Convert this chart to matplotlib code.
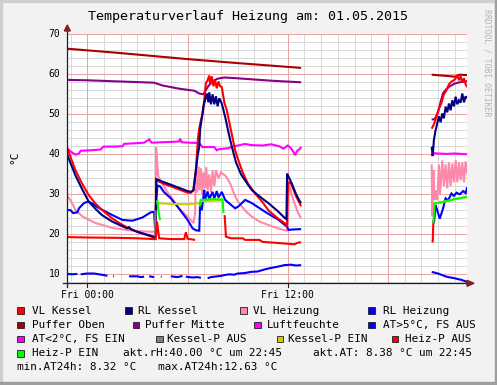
import numpy as np
import matplotlib
matplotlib.use('Agg')
import matplotlib.pyplot as plt
from matplotlib.patches import Rectangle, Polygon
from matplotlib.lines import Line2D

nan = np.nan

# ---------------- data (hours relative to Fri 00:00) ----------------
vl_kessel_t = [-1.2, -0.72, -0.32, 0.08, 0.48, 0.88, 1.48, 2.0, 2.48, 3.0, 3.5, 3.98, 4.08,
               4.13, 4.6, 5.0, 5.5, 6.0, 6.2, 6.35, 6.5, 6.62, 6.7, 6.8, 6.9, 7.0, 7.1, 7.2, 7.3,
               7.35, 7.45, 7.55, 7.65, 7.75, 7.85, 7.95, 8.05, 8.2, 8.35, 8.6, 8.85, 9.0, 9.3, 9.6,
               10.04, 10.5, 10.84, 11.4, 11.84, 11.95, 12.02, 12.2, 12.5, 12.8, 12.85,
               20.62, 20.75, 20.9, 21.05, 21.2, 21.35, 21.5, 21.65, 21.8, 21.95, 22.05, 22.15,
               22.25, 22.35, 22.45, 22.55, 22.65, 22.75]
vl_kessel_v = [41.5, 36.1, 32.7, 29.8, 27.7, 26.1, 24.0, 22.6, 21.5, 20.6, 19.9, 19.2, 19.3,
               33.5, 32.6, 32.0, 31.2, 30.4, 30.4, 31.0, 36.0, 44.0, 46.5, 48.5, 50.0, 53.6, 57.8, 58.5, 59.7,
               57.5, 59.5, 57.0, 58.5, 56.5, 58.2, 57.0, 56.8, 53.0, 51.0, 46.0, 41.0, 39.0, 35.5, 32.8,
               30.2, 28.0, 26.0, 24.0, 22.7, 22.0, 33.0, 32.7, 29.5, 27.0, nan,
               46.4, 47.5, 49.4, 51.5, 52.8, 55.0, 56.0, 57.5, 58.2, 58.5, 59.0, 59.8,
               58.5, 59.5, 58.0, 59.0, 57.5, 56.8]

rl_kessel_t = [-1.2, -0.72, -0.3, 0.08, 0.5, 0.88, 1.48, 2.0, 2.38, 2.5, 2.6, 3.0, 3.5, 3.98, 4.08,
               4.13, 4.6, 5.0, 5.5, 6.0, 6.2, 6.35, 6.5, 6.6, 6.7, 6.75, 6.85, 6.95, 7.05, 7.15, 7.25,
               7.3, 7.4, 7.5, 7.6, 7.7, 7.8, 7.9, 8.05, 8.25, 8.45, 8.65, 8.9, 9.2, 9.6, 9.84, 10.3,
               10.84, 11.4, 11.84, 11.92, 11.96, 12.24, 12.5, 12.74, 12.8, 12.85,
               20.62, 20.68, 20.75, 20.85, 20.95, 21.05, 21.15, 21.25, 21.35, 21.45, 21.55,
               21.65, 21.75, 21.85, 21.95, 22.05, 22.15, 22.25, 22.35, 22.45, 22.55, 22.65, 22.75]
rl_kessel_v = [39.8, 34.8, 31.2, 28.2, 26.3, 24.8, 23.2, 22.2, 21.5, 21.8, 21.3, 20.6, 20.0, 19.4, 19.5,
               33.8, 33.0, 32.4, 31.6, 30.8, 30.6, 31.0, 36.0, 39.5, 41.9, 46.0, 49.0, 51.9, 53.6, 55.2, 53.0,
               55.5, 52.5, 55.0, 52.5, 54.5, 52.0, 54.0, 52.7, 49.4, 45.5, 41.9, 38.0, 35.0, 32.5, 31.1, 29.5,
               27.8, 25.8, 24.0, 23.8, 35.2, 32.7, 30.0, 28.1, 27.8, nan,
               41.9, 39.6, 43.6, 46.0, 47.7, 49.5, 48.0, 50.2, 49.0, 51.9, 50.5,
               52.7, 51.0, 53.5, 52.0, 54.4, 52.5, 53.5, 52.9, 55.2, 53.0, 54.5, 54.0]

vl_heizung_t = [-1.2, -1.0, -0.7, -0.3, 0.1, 0.5, 1.0, 1.5, 2.0, 2.5, 3.0, 3.5, 4.0, 4.08, 4.12,
                4.18, 4.25, 4.5, 4.8, 5.0, 5.5, 6.0, 6.35, 6.45, 6.5, 6.57, 6.65, 6.72, 6.8, 6.88,
                6.95, 7.05, 7.12, 7.2, 7.3, 7.4, 7.5, 7.6, 7.7, 7.85, 8.0, 8.3, 8.55, 8.8, 9.0,
                9.25, 9.55, 9.85, 10.3, 10.85, 11.4, 11.84, 12.0, 12.06, 12.3, 12.6, 12.8, 12.85,
                20.62, 20.65, 20.72, 20.78, 20.85, 20.95, 21.05, 21.12, 21.25, 21.35, 21.45,
                21.55, 21.65, 21.75, 21.85, 21.95, 22.05, 22.15, 22.25, 22.35, 22.45, 22.55,
                22.65, 22.75]
vl_heizung_v = [29.5, 28.5, 26.0, 24.5, 23.6, 22.8, 22.2, 21.6, 21.3, 21.0, 20.8, 20.7, 20.6, 21.0, 41.8,
                38.0, 34.5, 32.5, 30.5, 29.4, 26.5, 24.4, 22.8, 25.2, 36.5, 30.5, 37.0, 31.0, 36.5, 30.0,
                35.5, 31.5, 36.8, 31.0, 35.0, 30.5, 36.0, 32.0, 36.0, 34.0, 35.5, 34.5, 32.7, 30.0, 28.3,
                26.9, 25.5, 24.4, 23.2, 22.3, 21.5, 21.0, 21.0, 32.5, 29.0, 25.5, 24.0, nan,
                37.5, 24.5, 36.0, 28.6, 31.0, 28.5, 37.5, 30.0, 38.5, 32.0, 37.5,
                31.5, 38.0, 32.0, 37.7, 33.0, 38.5, 33.0, 38.0, 33.5, 38.0, 33.0,
                38.2, 35.0]

rl_heizung_t = [-1.2, -1.0, -0.85, -0.6, -0.5, -0.2, 0.05, 0.3, 0.6, 0.9, 1.5, 2.1, 2.7, 3.3, 3.8,
                4.0, 4.05, 4.12, 4.2, 4.35, 4.6, 5.0, 5.4, 6.0, 6.3, 6.5, 6.7, 6.75, 6.85, 7.0, 7.05,
                7.2, 7.3, 7.5, 7.6, 7.75, 7.85, 8.05, 8.25, 8.85, 9.05, 9.45, 9.85, 10.65, 11.45,
                11.95, 12.05, 12.3, 12.8, 12.85,
                20.75, 20.85, 20.95, 21.1, 21.3, 21.45, 21.6, 21.8, 21.95, 22.1, 22.3, 22.5,
                22.65, 22.75]
rl_heizung_v = [26.1, 26.0, 25.3, 25.5, 26.5, 27.8, 28.2, 27.7, 26.8, 26.1, 24.8, 23.6, 23.4, 24.2, 25.5,
                25.6, 21.5, 28.0, 32.2, 32.0, 30.5, 29.0, 26.9, 23.6, 21.5, 21.0, 20.9, 27.3, 26.0, 31.1, 28.6,
                30.7, 28.8, 30.6, 29.0, 30.8, 29.2, 30.6, 28.6, 26.5, 27.0, 28.6, 27.8, 25.6, 23.6,
                21.9, 21.1, 21.2, 21.3, nan,
                22.7, 27.3, 26.0, 23.9, 26.5, 29.0, 28.5, 30.2, 29.6, 30.4, 30.0, 30.8,
                30.3, 31.8]

puffer_oben_t = [-1.2, 2.0, 6.0, 9.0, 12.8, 12.85, 20.62, 21.5, 22.0, 22.3, 22.75]
puffer_oben_v = [66.4, 65.3, 63.8, 62.8, 61.6, nan, 59.9, 59.6, 59.4, 59.9, 59.8]

puffer_mitte_t = [-1.2, 0.0, 2.0, 4.0, 4.5, 5.5, 6.4, 6.7, 6.95, 7.2, 7.5, 7.8, 8.2, 9.0, 10.0, 11.0,
                  12.8, 12.85, 20.62, 20.8, 21.0, 21.15, 21.3, 21.5, 21.7, 22.0, 22.3, 22.75]
puffer_mitte_v = [58.6, 58.5, 58.2, 57.9, 57.2, 56.4, 55.9, 55.2, 55.0, 56.8, 58.3, 58.9, 59.2, 59.0, 58.7, 58.4,
                  58.0, nan, 48.7, 48.8, 50.5, 53.0, 55.3, 56.3, 57.0, 57.7, 58.0, 58.3]

luftfeuchte_t = [-1.2, -1.0, -0.7, -0.5, -0.4, 0.2, 0.8, 0.95, 2.1, 2.2, 3.4, 3.7, 3.85, 5.0, 5.5,
                 5.55, 5.65, 6.7, 6.9, 7.6, 7.75, 7.9, 8.4, 8.7, 9.45, 9.8, 10.5, 11.0, 11.5, 11.74,
                 12.0, 12.2, 12.35, 12.44, 12.55, 12.74, 12.8, 12.85,
                 20.62, 20.7, 21.0, 21.5, 22.0, 22.75]
luftfeuchte_v = [41.5, 40.7, 39.9, 40.2, 40.9, 41.0, 41.2, 41.9, 42.0, 42.6, 42.9, 43.7, 42.9, 43.1, 43.2,
                 43.9, 43.0, 42.8, 41.8, 41.8, 41.0, 41.3, 41.5, 41.9, 42.6, 42.3, 42.2, 42.5, 42.0, 41.4,
                 42.2, 41.5, 40.5, 39.8, 40.8, 41.4, 41.9, nan,
                 39.5, 40.3, 40.2, 40.1, 40.2, 40.0]

at_t = [-1.2, -0.9, -0.6, -0.55, -0.4, 0.0, 0.4, 0.7, 1.0, 1.2, 1.25, 1.55, 1.6, 1.62, 2.0, 2.05,
        2.3, 2.35, 2.5, 2.7, 3.0, 3.2, 3.4, 3.45, 3.7, 4.0, 4.05, 4.4, 4.45, 4.5, 5.0, 5.2, 5.4, 5.7,
        5.75, 5.9, 6.3, 6.6, 6.8, 6.85, 7.0, 7.05, 7.2, 7.4, 7.6, 7.8, 8.0, 8.2, 8.5, 8.8, 9.0, 9.4,
        9.8, 10.2, 10.6, 11.0, 11.4, 11.8, 12.2, 12.5, 12.8, 12.85,
        20.62, 21.0, 21.5, 22.0, 22.4, 22.75]
at_v = [10.1, 10.0, 10.1, nan, 10.0, 10.2, 10.2, 10.0, 9.8, 9.6, nan, 9.5, 9.5, nan, 9.4, nan,
        9.4, nan, 9.5, 9.5, 9.5, 9.3, 9.4, nan, 9.5, 9.3, nan, 9.4, 9.4, nan, 9.5, 9.4, 9.3, 9.6,
        nan, 9.4, 9.2, 9.3, 9.1, nan, 9.0, nan, 9.0, 9.3, 9.4, 9.5, 9.6, 9.8, 10.0, 9.9, 10.2, 10.3,
        10.6, 10.7, 11.2, 11.6, 11.9, 12.3, 12.4, 12.2, 12.3, nan,
        10.6, 10.2, 9.4, 9.0, 8.6, 8.1]

kessel_p_aus_t = [4.05, 4.08]
kessel_p_aus_v = [19.5, 26.0]

kessel_p_ein_t = [4.15, 5.0, 6.0, 6.7, 6.8, 8.1, 8.15, 20.68, 21.5, 22.0, 22.75]
kessel_p_ein_v = [27.8, 27.6, 27.5, 27.8, 28.3, 28.5, nan, 27.5, 28.3, 28.8, 29.3]

heiz_p_aus_t = [-1.2, 0.0, 2.0, 3.0, 4.0, 4.1, 4.17, 4.3, 5.0, 5.8, 5.9, 6.0, 6.45, 6.5,
                8.22, 8.3, 8.6, 9.3, 9.45, 10.3, 10.5, 11.5, 12.4, 12.6, 12.8, 12.85,
                20.62, 20.68, 20.72]
heiz_p_aus_v = [19.3, 19.2, 19.1, 19.0, 18.8, 18.8, 23.2, 19.0, 18.8, 18.8, 20.5, 18.9, 18.6, nan,
                24.8, 19.4, 19.0, 19.0, 18.6, 18.6, 18.1, 17.8, 17.5, 17.9, 18.0, nan,
                18.2, 18.2, 23.6]

heiz_p_ein_t = [4.13, 4.2, 4.25, 4.35, 4.4, 6.72, 6.78, 7.5, 8.1, 8.15, 8.2, 20.72, 20.78, 21.5, 22.0, 22.75]
heiz_p_ein_v = [28.3, 28.3, 26.0, 23.5, nan, 26.9, 28.6, 28.8, 28.7, 25.3, nan, 22.7, 27.7, 28.3, 28.8, 29.4]

x_tick_pos = [0, 12]
x_tick_labels = ['Fri 00:00', 'Fri 12:00']
y_ticks = [10, 20, 30, 40, 50, 60, 70]

legend_rows = [
    [('VL Kessel', '#ff0000', 17, 31.7), ('RL Kessel', '#000080', 125, 137.7),
     ('VL Heizung', '#ff88a8', 240, 253.3), ('RL Heizung', '#0000ff', 368.3, 382.7)],
    [('Puffer Oben', '#aa0000', 17, 31.7), ('Puffer Mitte', '#880088', 132.7, 145),
     ('Luftfeuchte', '#ff00ff', 254, 266.7), ('AT>5°C, FS AUS', '#0000ff', 368.3, 382.7)],
    [('AT<2°C, FS EIN', '#ff00ff', 17, 31.7), ('Kessel-P AUS', '#808080', 156, 166.7),
     ('Kessel-P EIN', '#cccc00', 276.7, 288.3), ('Heiz-P AUS', '#ff0000', 391.7, 405.3)],
    [('Heiz-P EIN', '#00ff00', 17, 31.7)],
]
legend_text_extra = [
    ('akt.rH:40.00 °C um 22:45', 122.7, 353.3),
    ('akt.AT: 8.38 °C um 22:45', 312.7, 353.3),
    ('min.AT24h: 8.32 °C', 16.7, 366.7),
    ('max.AT24h:12.63 °C', 158.3, 366.7),
]

# ---------------- figure ----------------
W, H = 497, 385
fig = plt.figure(figsize=(W / 100, H / 100), dpi=100)
fig.patch.set_facecolor('#f2f2f2')

def P(x, y):
    return (x / W, 1 - y / H)

MONO = 'DejaVu Sans Mono'

# frame shading
fig.patches.append(Rectangle((0, 1 - 2 / H), 1, 2 / H, transform=fig.transFigure, color='#cfcfcf', zorder=0))
fig.patches.append(Rectangle((0, 0), 2 / W, 1, transform=fig.transFigure, color='#cfcfcf', zorder=0))
fig.patches.append(Rectangle((0, 0), 1, 3 / H, transform=fig.transFigure, color='#9e9e9e', zorder=0))
fig.patches.append(Rectangle((1 - 2 / W, 0), 2 / W, 1, transform=fig.transFigure, color='#9e9e9e', zorder=0))

x0px, x1px = 67.3, 467.3
ytop, ybot = 34.3, 283.3
ax = fig.add_axes([x0px / W, (H - ybot) / H, (x1px - x0px) / W, (ybot - ytop) / H])
ax.set_facecolor('white')
ax.set_xlim(-1.2, 22.75)
ax.set_ylim(70 - (ybot - ytop) / 4.0, 70)
for s in ax.spines.values():
    s.set_visible(False)
ax.set_xticks([])
ax.set_yticks([])

# grid
for h in np.arange(-1, 23, 1):
    ax.axvline(h, color='#d9d9d9', lw=0.72, zorder=0.5)
for v in np.arange(8, 71, 2):
    ax.axhline(v, color='#d9d9d9', lw=0.72, zorder=0.5)
for h in [0, 6, 12, 18]:
    ax.axvline(h, color='#eaa6a6', lw=0.75, zorder=0.6)
for v in y_ticks:
    ax.axhline(v, color='#eaa6a6', lw=0.75, zorder=0.6)

lw = 1.5
def line(t, v, c, z=2, w=lw):
    ax.plot(t, v, color=c, lw=w, zorder=z, solid_joinstyle='miter', solid_capstyle='butt')

line(puffer_oben_t, puffer_oben_v, '#aa0000', 2)
line(puffer_mitte_t, puffer_mitte_v, '#880088', 2)
line(luftfeuchte_t, luftfeuchte_v, '#ff00ff', 2)
line(vl_heizung_t, vl_heizung_v, '#ff88a8', 2.1)
line(rl_heizung_t, rl_heizung_v, '#0000ff', 2.2)
line(vl_kessel_t, vl_kessel_v, '#ff0000', 2.3)
line(rl_kessel_t, rl_kessel_v, '#000080', 2.4)
line(at_t, at_v, '#0000ff', 2.2)
line(kessel_p_aus_t, kessel_p_aus_v, '#808080', 2.5)
line(kessel_p_ein_t, kessel_p_ein_v, '#cccc00', 2.5)
line(heiz_p_aus_t, heiz_p_aus_v, '#ff0000', 2.5)
line(heiz_p_ein_t, heiz_p_ein_v, '#00ff00', 2.6)

# axes lines + arrows (figure pixel coords)
def fline(xs, ys, c, w=1.0):
    fig.lines.append(Line2D([x / W for x in xs], [1 - y / H for y in ys], color=c, lw=w,
                            transform=fig.transFigure, zorder=5))
fline([67.3, 67.3], [287, 30], '#1f1f1f', 0.9)
fline([63, 469], [283.3, 283.3], '#1f1f1f', 0.9)
fig.patches.append(Polygon([P(64.3, 31), P(70.3, 31), P(67.3, 25)], closed=True,
                           transform=fig.transFigure, color='#802020', zorder=6))
fig.patches.append(Polygon([P(467, 280.3), P(467, 286.3), P(474, 283.3)], closed=True,
                           transform=fig.transFigure, color='#802020', zorder=6))
# small ticks at the x axis
for h in x_tick_pos:
    xp = x0px + (h + 1.2) * (x1px - x0px) / 23.95
    fline([xp, xp], [283.3, 286.5], '#1f1f1f', 0.8)

# tick labels
for h, lab in zip(x_tick_pos, x_tick_labels):
    xp = x0px + (h + 1.2) * (x1px - x0px) / 23.95
    fig.text(*P(xp, 294.5), lab, ha='center', va='center', fontsize=7, family=MONO)
for v in y_ticks:
    yp = ytop + (70 - v) * 4.0
    fig.text(*P(60.5, yp), str(v), ha='right', va='center', fontsize=7, family=MONO)

# title, y label, watermark
fig.text(*P(248, 16.2), 'Temperaturverlauf Heizung am: 01.05.2015', ha='center', va='center',
         fontsize=9.6, family=MONO)
fig.text(*P(14, 157), '°C', ha='center', va='center', rotation=90, fontsize=8, family=MONO)
fig.text(*P(487.5, 62.5), 'RRDTOOL / TOBI OETIKER', ha='center', va='center', rotation=270,
         fontsize=5.9, family=MONO, color='#b4b4b4')

# legend
row_y = [310.7, 325.0, 339.0, 353.3]
for ry, row in zip(row_y, legend_rows):
    for lab, col, bx, tx in row:
        fig.patches.append(Rectangle(P(bx, ry + 3.3), 6.6 / W, 6.6 / H, transform=fig.transFigure,
                                     facecolor=col, edgecolor='#1f1f1f', lw=0.6, zorder=6))
        fig.text(*P(tx, ry), lab, ha='left', va='center', fontsize=7.9, family=MONO)
for lab, tx, ty in legend_text_extra:
    fig.text(*P(tx, ty), lab, ha='left', va='center', fontsize=7.9, family=MONO)

fig.savefig('out.png', dpi=100, facecolor=fig.get_facecolor())
